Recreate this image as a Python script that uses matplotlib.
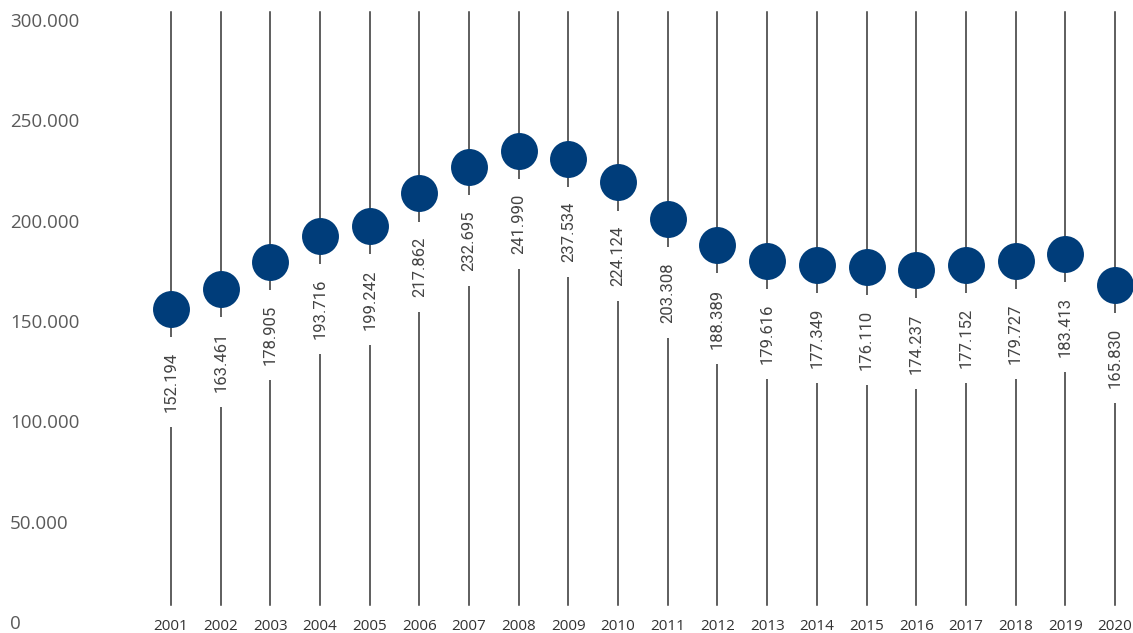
import numpy as np
import matplotlib
matplotlib.use("Agg")
import matplotlib.pyplot as plt
from matplotlib.ticker import FuncFormatter

# data
years = list(range(2001, 2021))
values = [152194, 163461, 178905, 193716, 199242, 217862, 232695, 241990,
          237534, 224124, 203308, 188389, 179616, 177349, 176110, 174237,
          177152, 179727, 183413, 165830]
axis_ticks = [0, 50000, 100000, 150000, 200000, 250000, 300000]

W, H = 1133, 633
dot_color = "#003d7a"
line_color = "#333333"

def dotfmt(v, pos=None):
    return f"{v:,.0f}".replace(",", ".")

fig = plt.figure(figsize=(W / 100, H / 100), dpi=100)

# axis used only for the y tick labels (as placed in the original)
ax2 = fig.add_axes([0, 0, 1, 1])
per_px = 300000 / 602
ax2.set_ylim(-11 * per_px, 300000 + 20 * per_px)
ax2.set_yticks(axis_ticks)
ax2.yaxis.set_major_formatter(FuncFormatter(dotfmt))
ax2.tick_params(axis="y", length=0, pad=-7.2, labelsize=13.5, labelcolor="#5a5a5a")
for lab in ax2.get_yticklabels():
    lab.set_ha("left")
    lab.set_family("Open Sans")
ax2.set_xticks([])
for s in ax2.spines.values():
    s.set_visible(False)
ax2.patch.set_alpha(0)

# main axis for the dots
ax = fig.add_axes([0, 0, 1, 1])
ax.patch.set_alpha(0)
x = np.arange(len(years))
step = 49.68
ax.set_xlim(-171 / step, (W - 171) / step)
b = 1.7595 / 1000
a = 576.8
ax.set_ylim((a - H) / b, a / b)

for xi in x:
    ax.axvline(xi, ymin=(H - 605) / H, ymax=(H - 12) / H, color=line_color, lw=1.1, zorder=1)

ax.plot(x, values, "o", ms=26.6, color=dot_color, zorder=4, markeredgewidth=0)

for xi, v in zip(x, values):
    ax.annotate(dotfmt(v), (xi, v), xytext=(0, -31), textcoords="offset points",
                rotation=90, ha="center", va="top", fontsize=12, color="#444444",
                family="Roboto", zorder=3,
                bbox=dict(boxstyle="square,pad=0.9", fc="white", ec="none"))

ax.set_xticks(x)
ax.set_xticklabels([str(y) for y in years])
ax.tick_params(axis="x", length=0, pad=-10, labelsize=11, labelcolor="#333333")
for lab in ax.get_xticklabels():
    lab.set_family("Open Sans")
ax.set_yticks([])
for s in ax.spines.values():
    s.set_visible(False)

fig.savefig("out.png", dpi=100, facecolor="white")
